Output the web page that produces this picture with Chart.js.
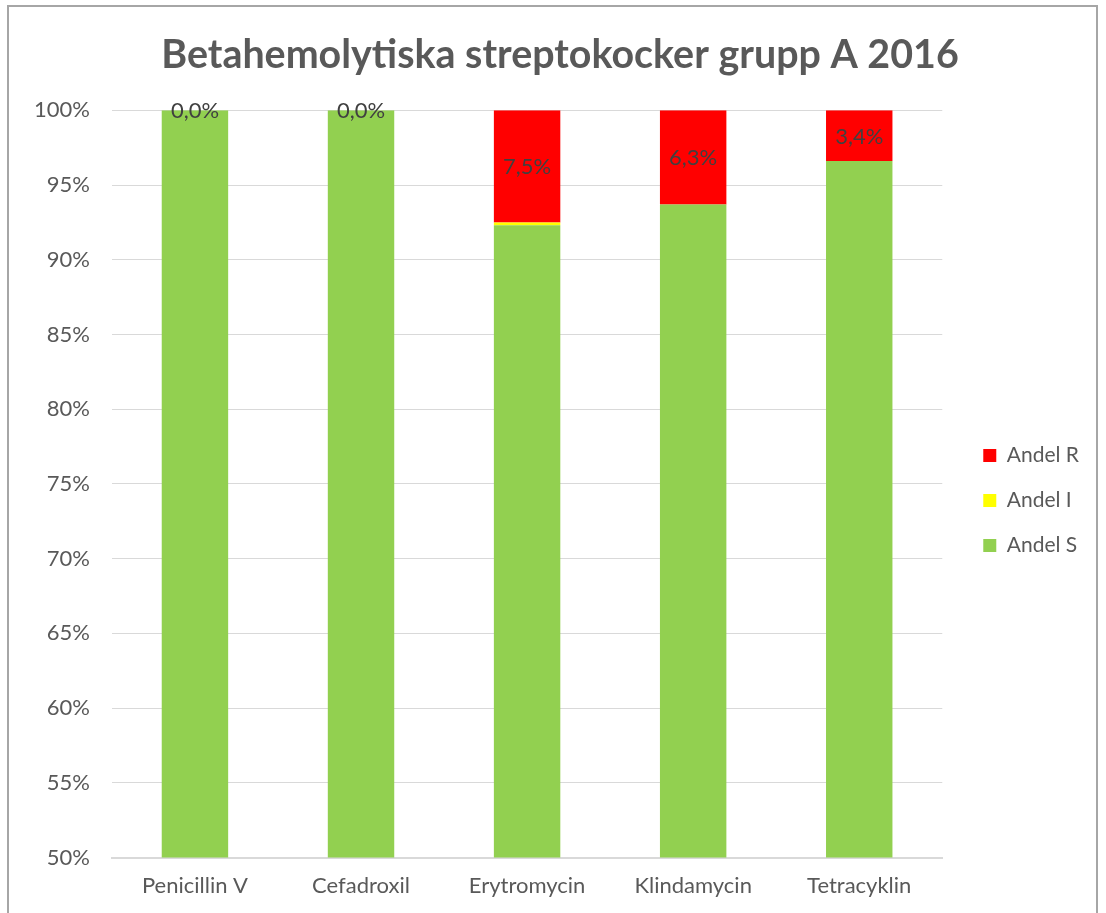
<!DOCTYPE html>
<html lang="sv">
<head>
<meta charset="UTF-8">
<title>Betahemolytiska streptokocker grupp A 2016</title>
<style>
    body { margin: 0; background: #fff; }
    #frame {
        position: absolute; left: 7px; top: 5px;
        width: 1091px; height: 920px;
        border: 2px solid #a6a6a6;
        box-sizing: border-box;
    }
    #wrap { position: absolute; left: 0; top: 0; width: 1106px; height: 913px; }
</style>
</head>
<body>
<div id="frame"></div>
<div id="wrap"><canvas id="chart" width="1106" height="913"></canvas></div>

<script src="https://cdn.jsdelivr.net/npm/chart.js@4.4.0/dist/chart.umd.min.js"></script>
<script>
const categories = ["Penicillin V", "Cefadroxil", "Erytromycin", "Klindamycin", "Tetracyklin"];
const andelS = [100, 100, 92.3, 93.7, 96.6];
const andelI = [0, 0, 0.2, 0, 0];
const andelR = [0, 0, 7.5, 6.3, 3.4];
const yTicks = [50, 55, 60, 65, 70, 75, 80, 85, 90, 95, 100];

const FONT = "Lato, 'Open Sans', sans-serif";
const GREY = "#595959";
const LEGEND_PAD = 24;

// labels for Andel R, centred in each red segment
const valueLabels = {
    id: "valueLabels",
    afterDatasetsDraw(chart) {
        const ctx = chart.ctx;
        const meta = chart.getDatasetMeta(2);
        ctx.save();
        ctx.font = "22px " + FONT;
        ctx.fillStyle = "#404040";
        ctx.textAlign = "center";
        ctx.textBaseline = "middle";
        meta.data.forEach((bar, i) => {
            const txt = andelR[i].toFixed(1).replace(".", ",") + "%";
            ctx.fillText(txt, bar.x, (bar.y + bar.base) / 2 + 1);
        });
        ctx.restore();
    }
};

// nudge legend and title to where they sit in the original
const nudge = {
    id: "nudge",
    afterLayout(chart) {
        const lg = chart.legend;
        lg.left += 17; lg.right += 17;
        lg.top += 33; lg.bottom += 33;
        const t = chart.titleBlock;
        if (t) {
            t.left += 18; t.right += 18;
            t.top += 3; t.bottom += 3;
        }
    }
};

new Chart(document.getElementById("chart"), {
    type: "bar",
    data: {
        labels: categories,
        datasets: [
            { label: "Andel S", data: andelS, backgroundColor: "#92d050" },
            { label: "Andel I", data: andelI, backgroundColor: "#ffff00" },
            { label: "Andel R", data: andelR, backgroundColor: "#ff0000" }
        ]
    },
    options: {
        responsive: false,
        animation: false,
        layout: { padding: { left: 12, right: 34, top: 29, bottom: 7 } },
        datasets: { bar: { categoryPercentage: 1, barPercentage: 0.4 } },
        plugins: {
            tooltip: { enabled: false },
            title: {
                display: true,
                text: "Betahemolytiska streptokocker grupp A 2016",
                color: GREY,
                font: { family: FONT, size: 39.4, weight: "bold" },
                padding: { top: 0, bottom: 34 }
            },
            legend: {
                position: "right",
                reverse: true,
                labels: {
                    color: GREY,
                    font: { family: FONT, size: 21 },
                    boxWidth: 13,
                    boxHeight: 13,
                    padding: LEGEND_PAD
                }
            }
        },
        scales: {
            x: {
                stacked: true,
                grid: { display: false },
                border: { color: "#d9d9d9", width: 2 },
                ticks: { color: GREY, font: { family: FONT, size: 22 }, padding: 7 }
            },
            y: {
                stacked: true,
                min: 50,
                max: 100,
                afterBuildTicks(axis) { axis.ticks = yTicks.map(v => ({ value: v })); },
                grid: { color: "#d9d9d9", lineWidth: 1, drawTicks: false },
                border: { display: false },
                ticks: {
                    color: GREY,
                    font: { family: FONT, size: 22 },
                    padding: 22,
                    callback: v => v + "%"
                }
            }
        }
    },
    plugins: [valueLabels, nudge]
});
</script>
</body>
</html>
